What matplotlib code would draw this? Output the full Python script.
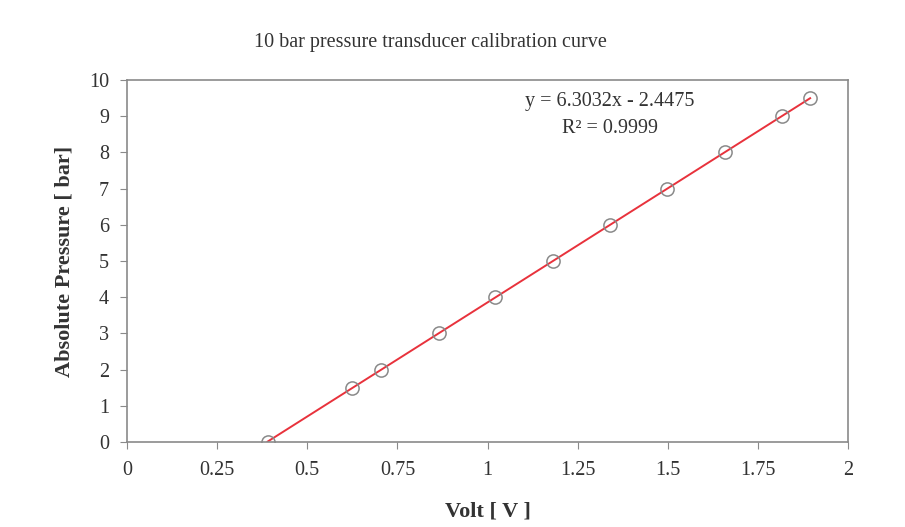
import matplotlib.pyplot as plt
import numpy as np

# calibration points: output voltage vs applied absolute pressure
volt = [0.39, 0.625, 0.705, 0.865, 1.022, 1.182, 1.341, 1.499, 1.658, 1.816, 1.895]
pressure = [0, 1.5, 2, 3, 4, 5, 6, 7, 8, 9, 9.5]
slope = 6.3032
intercept = -2.4475
r_squared = 0.9999
x_ticks = [0, 0.25, 0.5, 0.75, 1, 1.25, 1.5, 1.75, 2]
x_tick_labels = ['0', '0.25', '0.5', '0.75', '1', '1.25', '1.5', '1.75', '2']
y_ticks = list(range(0, 11))

plt.rcParams['font.family'] = ['Liberation Serif', 'DejaVu Serif']

fig = plt.figure(figsize=(9.05, 5.27), dpi=100)
ax = fig.add_axes([127 / 905, 85 / 527, 721 / 905, 362 / 527])

# linear trendline over the range of measured points
fit_x = np.array([min(volt), max(volt)])
ax.plot(fit_x, slope * fit_x + intercept, color='#e8323c', linewidth=1.4, zorder=2)
ax.plot(volt, pressure, linestyle='none', marker='o', markersize=9.5,
        markerfacecolor='none', markeredgecolor='#8a8a8a', markeredgewidth=1.1, zorder=3)

ax.set_xlim(0, 2)
ax.set_ylim(0, 10)
ax.set_xticks(x_ticks)
ax.set_xticklabels(x_tick_labels)
ax.set_yticks(y_ticks)
ax.tick_params(direction='out', length=5, color='#8a8a8a', labelsize=14.5,
               labelcolor='#333333', pad=8)
ax.tick_params(axis='x', pad=9)
for s in ax.spines.values():
    s.set_color('#8a8a8a')
    s.set_linewidth(1.2)

ax.set_xlabel('Volt [ V ]', fontsize=16, fontweight='bold', color='#333333', labelpad=15)
ax.set_ylabel('Absolute Pressure [ bar]', fontsize=16, fontweight='bold', color='#333333', labelpad=10)

fig.text(430 / 905, 1 - 42 / 527, '10 bar pressure transducer calibration curve',
         ha='center', va='center', fontsize=14.5, color='#333333')

ax.text(0.67, 0.94, f'y = {slope}x - {abs(intercept)}', transform=ax.transAxes,
        ha='center', va='center', fontsize=14.5, color='#333333')
ax.text(0.67, 0.865, f'R\u00b2 = {r_squared}', transform=ax.transAxes,
        ha='center', va='center', fontsize=14.5, color='#333333')

fig.savefig('out.png', dpi=100)
